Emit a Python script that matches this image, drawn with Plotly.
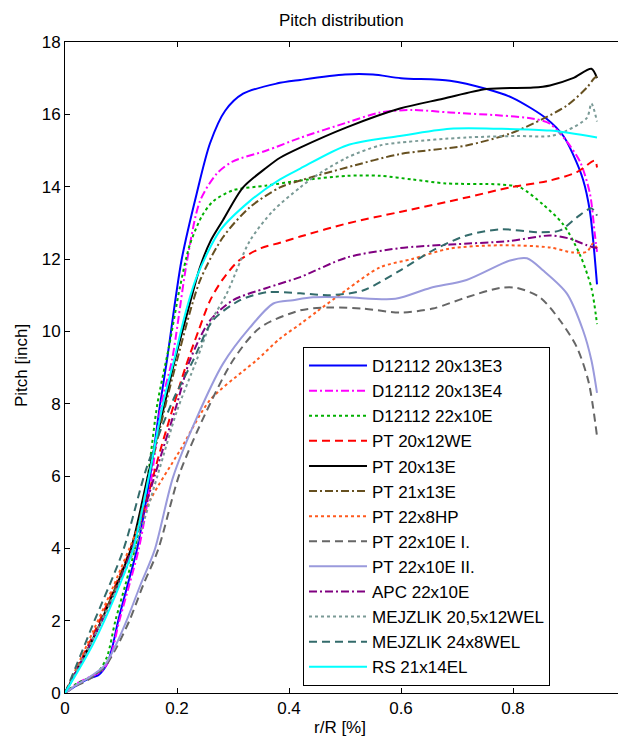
import plotly.graph_objects as go

# ---- data (r/R, pitch in inch) ----
names = ["D12112 20x13E3", "D12112 20x13E4", "D12112 22x10E", "PT 20x12WE", "PT 20x13E",
         "PT 21x13E", "PT 22x8HP", "PT 22x10E I.", "PT 22x10E II.", "APC 22x10E",
         "MEJZLIK 20,5x12WEL", "MEJZLIK 24x8WEL", "RS 21x14EL"]

x_d12112_e3 = [0, 0.02, 0.04, 0.06, 0.075, 0.085, 0.095, 0.112, 0.129, 0.152, 0.17, 0.182, 0.208, 0.235, 0.259, 0.286, 0.318, 0.378, 0.42, 0.5, 0.55, 0.6, 0.6875, 0.753, 0.8, 0.86, 0.89, 0.907, 0.925, 0.9375, 0.95]
y_d12112_e3 = [0, 0.2, 0.38, 0.5, 0.8, 1.3, 2.0, 3.0, 4.0, 6.0, 8.0, 9.2, 11.96, 13.8, 15.2, 16.1, 16.57, 16.85, 16.95, 17.1, 17.1, 17.0, 16.93, 16.7, 16.45, 15.88, 15.4, 14.9, 14.2, 13.3, 11.3]

x_d12112_e4 = [0, 0.02, 0.045, 0.065, 0.08, 0.097, 0.115, 0.132, 0.155, 0.172, 0.191, 0.218, 0.241, 0.271, 0.3, 0.36, 0.42, 0.503, 0.5625, 0.62, 0.6875, 0.777, 0.836, 0.866, 0.896, 0.92, 0.9375, 0.946, 0.95]
y_d12112_e4 = [0, 0.25, 0.45, 0.6, 0.95, 2.0, 3.0, 4.0, 6.0, 8.0, 9.2, 11.96, 13.6, 14.36, 14.7, 15.0, 15.35, 15.77, 16.05, 16.12, 16.05, 15.97, 15.88, 15.74, 15.25, 14.68, 13.8, 12.7, 12.2]

x_d12112_22 = [0, 0.02, 0.04, 0.06, 0.075, 0.09, 0.108, 0.125, 0.148, 0.165, 0.186, 0.205, 0.223, 0.245, 0.265, 0.3, 0.36, 0.42, 0.503, 0.5625, 0.62, 0.68, 0.777, 0.8125, 0.854, 0.89, 0.92, 0.94, 0.95]
y_d12112_22 = [0, 0.25, 0.4, 0.6, 1.0, 2.0, 3.0, 4.0, 6.0, 8.0, 9.6, 11.2, 12.4, 13.2, 13.6, 13.9, 14.03, 14.17, 14.3, 14.3, 14.2, 14.09, 14.06, 13.98, 13.5, 12.95, 12.1, 11.2, 10.2]

x_pt_20x12 = [0, 0.05, 0.085, 0.116, 0.145, 0.17, 0.195, 0.215, 0.238, 0.259, 0.28, 0.31, 0.35, 0.384, 0.42, 0.503, 0.598, 0.717, 0.795, 0.866, 0.914, 0.946, 0.95]
y_pt_20x12 = [0, 1.6, 2.8, 3.95, 5.3, 6.7, 8.0, 9.0, 10.0, 10.85, 11.4, 11.95, 12.3, 12.45, 12.62, 12.98, 13.3, 13.7, 13.98, 14.17, 14.4, 14.72, 14.53]

x_pt_20x13 = [0, 0.05, 0.09, 0.118, 0.148, 0.178, 0.196, 0.22, 0.241, 0.26, 0.282, 0.318, 0.36, 0.384, 0.42, 0.503, 0.598, 0.675, 0.753, 0.836, 0.866, 0.907, 0.94, 0.95]
y_pt_20x13 = [0, 1.5, 2.9, 4.0, 6.0, 8.0, 9.2, 10.6, 11.77, 12.5, 13.07, 13.98, 14.53, 14.8, 15.08, 15.64, 16.16, 16.43, 16.7, 16.74, 16.8, 17.0, 17.26, 17.0]

x_pt_21x13 = [0, 0.05, 0.09, 0.12, 0.15, 0.18, 0.2, 0.241, 0.282, 0.33, 0.384, 0.42, 0.503, 0.598, 0.717, 0.795, 0.854, 0.896, 0.932, 0.945, 0.95]
y_pt_21x13 = [0, 1.5, 2.9, 4.0, 6.0, 8.0, 9.2, 11.4, 12.6, 13.43, 13.98, 14.17, 14.53, 14.9, 15.14, 15.47, 15.88, 16.24, 16.74, 17.0, 17.05]

x_pt_22x8 = [0, 0.05, 0.085, 0.115, 0.152, 0.205, 0.259, 0.318, 0.342, 0.384, 0.42, 0.45, 0.503, 0.5625, 0.62, 0.6875, 0.777, 0.866, 0.907, 0.932, 0.943, 0.95]
y_pt_22x8 = [0, 1.7, 2.9, 4.0, 5.33, 6.7, 8.1, 8.9, 9.2, 9.8, 10.2, 10.55, 11.15, 11.77, 12.0, 12.29, 12.38, 12.32, 12.18, 12.2, 12.43, 12.3]

x_pt_22x10_1 = [0, 0.02, 0.04, 0.07, 0.09, 0.115, 0.14, 0.166, 0.205, 0.253, 0.3, 0.348, 0.42, 0.473, 0.532, 0.598, 0.657, 0.717, 0.777, 0.807, 0.848, 0.884, 0.914, 0.935, 0.95]
y_pt_22x10_1 = [0, 0.2, 0.35, 0.7, 1.2, 2.0, 3.0, 3.95, 6.08, 7.8, 9.2, 10.1, 10.58, 10.66, 10.63, 10.52, 10.63, 10.94, 11.2, 11.2, 10.94, 10.3, 9.56, 8.6, 7.1]

x_pt_22x10_2 = [0, 0.02, 0.04, 0.07, 0.09, 0.11, 0.135, 0.16, 0.193, 0.235, 0.282, 0.33, 0.372, 0.407, 0.443, 0.503, 0.59, 0.652, 0.717, 0.795, 0.825, 0.854, 0.896, 0.925, 0.94, 0.95]
y_pt_22x10_2 = [0, 0.22, 0.4, 0.75, 1.3, 2.0, 3.0, 3.95, 5.97, 7.6, 9.1, 10.1, 10.77, 10.86, 10.94, 10.94, 10.9, 11.2, 11.42, 11.96, 12.02, 11.68, 11.05, 10.03, 9.2, 8.3]

x_apc = [0, 0.05, 0.088, 0.12, 0.16, 0.2, 0.223, 0.259, 0.3, 0.36, 0.42, 0.503, 0.598, 0.6875, 0.795, 0.866, 0.902, 0.932, 0.95]
y_apc = [0, 1.5, 2.7, 4.0, 6.0, 8.0, 9.2, 10.3, 10.86, 11.2, 11.5, 12.04, 12.3, 12.4, 12.5, 12.65, 12.56, 12.38, 12.3]

x_mej_205 = [0, 0.05, 0.09, 0.125, 0.165, 0.2, 0.235, 0.262, 0.289, 0.33, 0.372, 0.42, 0.443, 0.503, 0.5625, 0.598, 0.717, 0.807, 0.866, 0.896, 0.932, 0.94, 0.95]
y_mej_205 = [0, 1.5, 2.8, 4.0, 6.0, 7.8, 9.2, 10.3, 11.05, 12.5, 13.34, 13.98, 14.25, 14.8, 15.14, 15.22, 15.36, 15.4, 15.4, 15.55, 15.9, 16.3, 15.8]

x_mej_24 = [0, 0.02, 0.05, 0.104, 0.146, 0.193, 0.229, 0.264, 0.3125, 0.36, 0.42, 0.473, 0.532, 0.598, 0.657, 0.717, 0.777, 0.848, 0.884, 0.914, 0.94, 0.95]
y_mej_24 = [0, 0.75, 1.9, 3.95, 6.24, 8.1, 9.2, 10.3, 10.86, 11.08, 11.05, 11.0, 11.13, 11.68, 12.24, 12.65, 12.82, 12.74, 12.79, 13.15, 13.4, 13.2]

x_rs = [0, 0.05, 0.09, 0.122, 0.15, 0.175, 0.196, 0.215, 0.235, 0.277, 0.33, 0.384, 0.42, 0.503, 0.598, 0.6875, 0.777, 0.866, 0.95]
y_rs = [0, 1.35, 2.7, 4.0, 6.0, 8.0, 9.28, 10.5, 11.5, 12.79, 13.6, 14.2, 14.5, 15.14, 15.4, 15.6, 15.6, 15.55, 15.36]

x_ticks = [0, 0.2, 0.4, 0.6, 0.8]
x_tick_labels = ["0", "0.2", "0.4", "0.6", "0.8"]
y_ticks = [0, 2, 4, 6, 8, 10, 12, 14, 16, 18]

series_x = [x_d12112_e3, x_d12112_e4, x_d12112_22, x_pt_20x12, x_pt_20x13, x_pt_21x13, x_pt_22x8,
            x_pt_22x10_1, x_pt_22x10_2, x_apc, x_mej_205, x_mej_24, x_rs]
series_y = [y_d12112_e3, y_d12112_e4, y_d12112_22, y_pt_20x12, y_pt_20x13, y_pt_21x13, y_pt_22x8,
            y_pt_22x10_1, y_pt_22x10_2, y_apc, y_mej_205, y_mej_24, y_rs]

# ---- styles ----
DOT = "3px,3px"
DASH = "8px,5px"
DASHDOT = "8px,3px,2px,3px"
colors = ["#0000FF", "#FF00FF", "#00B000", "#FF0000", "#000000", "#665020", "#FF5A1E",
          "#666666", "#9A9ADC", "#800080", "#7A9A96", "#336B6B", "#00FFFF"]
dashes = ["solid", DASHDOT, DOT, DASH, "solid", DASHDOT, DOT, DASH, "solid", DASHDOT, DOT, DASH, "solid"]

fig = go.Figure()
for i, (n, xs, ys) in enumerate(zip(names, series_x, series_y)):
    fig.add_trace(go.Scatter(
        x=xs, y=ys, name=n, mode="lines",
        line=dict(color=colors[i], width=2, dash=dashes[i], shape="spline", smoothing=0.8),
    ))

FONT = "Liberation Sans, Arial, Helvetica, sans-serif"
FS = 17
W, H = 618, 738
L, R, T, B = 65, 0, 42, 45
pw, ph = W - L - R, H - T - B

def px2paper_x(px):
    return (px - L) / pw

def px2paper_y(py):
    return (H - B - py) / ph

fig.update_layout(
    width=W, height=H,
    margin=dict(l=L, r=R, t=T, b=B, pad=0),
    paper_bgcolor="white", plot_bgcolor="white",
    font=dict(family=FONT, size=FS, color="black"),
    showlegend=True,
    legend=dict(
        x=px2paper_x(303), y=px2paper_y(347), xanchor="left", yanchor="top",
        bgcolor="white", bordercolor="black", borderwidth=1,
        font=dict(family=FONT, size=FS, color="black"),
        itemwidth=58, traceorder="normal",
    ),
    annotations=[
        dict(text="Pitch distribution", x=px2paper_x(341), y=px2paper_y(20), xref="paper", yref="paper",
             showarrow=False, xanchor="center", yanchor="middle", font=dict(size=FS)),
        dict(text="r/R [%]", x=px2paper_x(340), y=px2paper_y(727), xref="paper", yref="paper",
             showarrow=False, xanchor="center", yanchor="middle", font=dict(size=FS)),
        dict(text="Pitch [inch]", x=px2paper_x(22), y=px2paper_y(366), xref="paper", yref="paper",
             showarrow=False, xanchor="center", yanchor="middle", textangle=-90, font=dict(size=FS)),
    ],
)
fig.update_xaxes(
    range=[0, pw / 560.0], tickvals=x_ticks, ticktext=x_tick_labels,
    showline=True, linecolor="black", linewidth=1, mirror="ticks",
    ticks="inside", ticklen=5, tickcolor="black", showgrid=False, zeroline=False,
    tickfont=dict(size=FS),
)
fig.update_yaxes(
    range=[0, 18], tickvals=y_ticks,
    showline=True, linecolor="black", linewidth=1, mirror=False,
    ticks="inside", ticklen=5, tickcolor="black", showgrid=False, zeroline=False,
    tickfont=dict(size=FS),
)

fig.write_html("out.html", config={"displayModeBar": False},
               post_script="document.body.style.margin='0px';document.body.style.overflow='hidden';")
